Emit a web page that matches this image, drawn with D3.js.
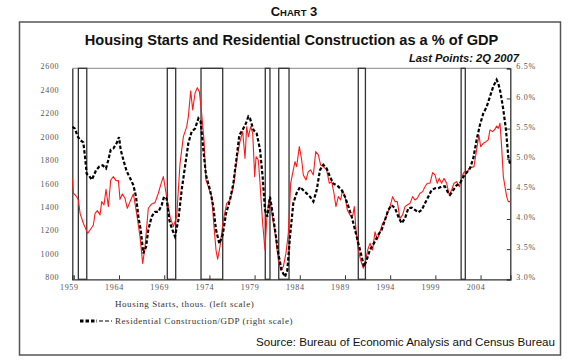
<!DOCTYPE html>
<html><head><meta charset="utf-8">
<script src="https://cdn.jsdelivr.net/npm/d3@7"></script>
<style>
html,body{margin:0;padding:0;background:#fff;}
svg{display:block;}
</style></head>
<body>
<svg id="chart" width="576" height="360"></svg>
<script>
// ---- data ----
const startYears = [1958.85,1958.95,1959.32,1959.50,1959.69,1960.05,1960.53,1960.79,1961.16,1961.35,1961.60,1961.90,1962.08,1962.34,1962.56,1962.82,1963.08,1963.37,1963.67,1963.93,1964.11,1964.37,1964.66,1964.92,1965.22,1965.59,1965.95,1966.32,1966.62,1966.88,1967.24,1967.61,1967.98,1968.35,1968.61,1968.90,1969.27,1969.64,1970.01,1970.38,1970.75,1971.12,1971.49,1971.67,1971.93,1972.15,1972.41,1972.66,1972.89,1973.14,1973.40,1973.62,1973.88,1974.25,1974.51,1974.73,1974.91,1975.17,1975.54,1975.91,1976.28,1976.65,1977.02,1977.38,1977.68,1977.94,1978.12,1978.31,1978.57,1978.79,1979.01,1979.16,1979.41,1979.60,1979.89,1980.15,1980.34,1980.59,1980.81,1981.07,1981.33,1981.62,1981.88,1982.18,1982.47,1982.73,1982.99,1983.28,1983.47,1983.65,1983.95,1984.21,1984.39,1984.69,1984.94,1985.20,1985.50,1985.76,1986.05,1986.31,1986.60,1986.97,1987.27,1987.53,1987.78,1988.00,1988.26,1988.52,1988.74,1989.00,1989.26,1989.55,1989.85,1990.03,1990.22,1990.47,1990.73,1991.03,1991.29,1991.51,1991.77,1992.06,1992.32,1992.58,1992.87,1993.17,1993.42,1993.68,1993.98,1994.27,1994.53,1994.79,1995.08,1995.38,1995.64,1995.89,1996.19,1996.48,1996.74,1997.00,1997.30,1997.59,1997.85,1998.11,1998.40,1998.70,1998.96,1999.21,1999.43,1999.69,1999.95,2000.25,2000.54,2000.80,2001.06,2001.35,2001.65,2002.02,2002.20,2002.46,2002.75,2003.01,2003.27,2003.56,2003.82,2004.01,2004.30,2004.60,2004.85,2005.04,2005.33,2005.59,2005.78,2005.96,2006.15,2006.33,2006.52,2006.70,2006.89,2007.07,2007.29];
const startValues = [1653,1534,1505,1477,1363,1278,1192,1221,1263,1363,1386,1349,1463,1434,1568,1420,1647,1676,1642,1642,1482,1528,1491,1406,1463,1528,1363,1164,936,1079,1406,1443,1454,1534,1605,1676,1505,1335,1249,1335,1790,2017,2102,2188,2407,2245,2387,2435,2401,2216,1989,1647,1590,1505,1249,1050,971,1079,1306,1448,1477,1590,1818,1974,2060,1832,2102,2017,2102,2045,1676,1846,1818,1619,1278,1050,1306,1477,1420,1278,1164,965,880,908,1022,1192,1619,1733,1804,1761,1932,1818,1690,1647,1718,1733,1690,1889,1861,1775,1761,1733,1619,1633,1534,1420,1505,1477,1562,1505,1392,1349,1340,1420,1221,1050,965,894,965,1050,1107,1050,1206,1136,1206,1278,1306,1363,1420,1505,1463,1463,1320,1349,1420,1434,1448,1505,1477,1491,1534,1548,1590,1619,1619,1710,1690,1619,1661,1619,1661,1619,1519,1562,1619,1633,1590,1690,1718,1704,1747,1755,1761,1903,2031,1932,1960,1974,1989,2074,2060,2080,2108,2088,2131,1932,1676,1590,1505,1463,1463];
const resYears = [1958.85,1959.13,1959.39,1959.69,1960.05,1960.24,1960.42,1960.72,1960.98,1961.23,1961.46,1961.82,1962.19,1962.56,1962.82,1963.08,1963.37,1963.74,1964.00,1964.18,1964.48,1964.85,1965.22,1965.59,1965.88,1966.14,1966.40,1966.69,1966.99,1967.24,1967.61,1967.98,1968.35,1968.72,1968.98,1969.27,1969.57,1969.83,1970.19,1970.56,1970.93,1971.30,1971.67,1972.04,1972.41,1972.78,1973.03,1973.33,1973.62,1974.07,1974.43,1974.73,1975.10,1975.47,1975.84,1976.28,1976.65,1977.02,1977.31,1977.68,1978.05,1978.31,1978.49,1978.86,1979.23,1979.60,1979.89,1980.15,1980.41,1980.70,1981.00,1981.26,1981.62,1981.99,1982.36,1982.62,1982.92,1983.28,1983.65,1984.02,1984.58,1985.13,1985.50,1985.87,1986.23,1986.60,1986.97,1987.34,1987.71,1988.26,1988.63,1989.00,1989.37,1989.74,1990.11,1990.47,1990.84,1991.10,1991.40,1991.77,1992.21,1992.69,1993.06,1993.42,1993.79,1994.16,1994.53,1994.90,1995.27,1995.64,1996.01,1996.37,1996.74,1997.11,1997.48,1997.85,1998.22,1998.58,1998.96,1999.32,1999.69,2000.06,2000.36,2000.62,2000.98,2001.35,2001.72,2002.09,2002.46,2002.83,2003.20,2003.56,2003.93,2004.30,2004.67,2005.04,2005.41,2005.78,2005.96,2006.22,2006.52,2006.81,2007.07,2007.29];
const resValues = [5.53,5.50,5.38,5.31,5.27,5.03,4.75,4.71,4.65,4.73,4.81,4.87,4.89,4.84,4.98,5.15,5.17,5.26,5.36,5.15,4.98,4.79,4.68,4.56,4.37,4.04,3.82,3.43,3.54,3.82,4.04,4.12,4.12,4.23,4.37,4.34,3.98,3.85,3.71,3.98,4.48,4.87,5.26,5.45,5.50,5.67,5.62,5.15,4.73,4.48,4.21,3.82,3.59,3.74,4.09,4.32,4.59,5.03,5.39,5.48,5.59,5.70,5.67,5.48,5.42,5.15,4.70,4.15,4.04,4.37,4.09,3.82,3.43,3.15,3.04,3.15,3.71,4.26,4.43,4.53,4.45,4.37,4.29,4.48,4.81,4.90,4.84,4.70,4.59,4.54,4.48,4.37,4.21,4.04,3.82,3.60,3.38,3.21,3.32,3.49,3.60,3.74,3.82,3.98,4.15,4.23,4.18,4.04,3.93,4.01,4.18,4.19,4.15,4.11,4.15,4.26,4.37,4.48,4.51,4.51,4.54,4.54,4.45,4.40,4.48,4.56,4.59,4.70,4.77,4.84,5.01,5.31,5.56,5.75,5.86,6.03,6.20,6.31,6.25,6.09,5.81,5.48,5.03,4.90];
const recessionStart = [1959.50,1969.34,1973.07,1980.18,1981.67,1990.47,2001.85];
const recessionEnd   = [1960.43,1970.27,1975.47,1980.70,1982.81,1991.26,2002.31];
const leftTicks = [800,1000,1200,1400,1600,1800,2000,2200,2400,2600];
const rightTicks = [3.0,3.5,4.0,4.5,5.0,5.5,6.0,6.5];
const yearTicks = [1959,1964,1969,1974,1979,1984,1989,1994,1999,2004];
const titleText = "Housing Starts and Residential Construction as a % of GDP";
const subtitleText = "Last Points: 2Q 2007";
const legendLabels = ["Housing Starts, thous. (left scale)", "Residential Construction/GDP (right scale)"];
const sourceText = "Source: Bureau of Economic Analysis and Census Bureau";

// ---- layout ----
const svg = d3.select("#chart");
const L = 72.3, R = 510.3, T = 68.3, B = 279.3;
const x = d3.scaleLinear().domain([1958.83, 2007.29]).range([L, R]);
const yL = d3.scaleLinear().domain([800, 2600]).range([B, T]);
const yR = d3.scaleLinear().domain([3.0, 6.5]).range([B, T]);

// outer frame
svg.append("rect").attr("x", 19.5).attr("y", 22).attr("width", 541).attr("height", 333)
  .attr("fill", "#fff").attr("stroke", "#555").attr("stroke-width", 1.5);

// Chart 3 heading (small caps)
const h = svg.append("text").attr("x", 294).attr("y", 15.5).attr("text-anchor", "middle")
  .attr("font-family", "Liberation Sans, Arial, sans-serif").attr("font-weight", "bold").attr("fill", "#111");
h.append("tspan").attr("font-size", 13).text("C");
h.append("tspan").attr("font-size", 9.5).text("HART");
h.append("tspan").attr("font-size", 13).text(" 3");

svg.append("text").attr("x", 291.5).attr("y", 44.5).attr("text-anchor", "middle")
  .attr("font-family", "Liberation Sans, Arial, sans-serif").attr("font-weight", "bold")
  .attr("font-size", 14.6).attr("fill", "#111").text(titleText);
svg.append("text").attr("x", 519).attr("y", 61.5).attr("text-anchor", "end")
  .attr("font-family", "Liberation Sans, Arial, sans-serif").attr("font-weight", "bold").attr("font-style", "italic")
  .attr("font-size", 11.2).attr("fill", "#111").text(subtitleText);

// plot top border (light)
svg.append("line").attr("x1", L).attr("x2", R).attr("y1", T).attr("y2", T)
  .attr("stroke", "#888").attr("stroke-width", 1);

// recession bars
svg.append("g").selectAll("rect").data(recessionStart).join("rect")
  .attr("x", (d) => x(d))
  .attr("y", T)
  .attr("width", (d, i) => x(recessionEnd[i]) - x(d))
  .attr("height", B - T)
  .attr("fill", "none").attr("stroke", "#333").attr("stroke-width", 1.3);

// axes
const axisFont = "Liberation Serif, Times New Roman, serif";
const gl = svg.append("g").attr("transform", `translate(${L},0)`)
  .call(d3.axisLeft(yL).tickValues(leftTicks).tickSize(0).tickPadding(13).tickFormat(d3.format("d")));
const gr = svg.append("g").attr("transform", `translate(${R},0)`)
  .call(d3.axisRight(yR).tickValues(rightTicks).tickSize(-3.5).tickPadding(6).tickFormat(d => d.toFixed(1) + "%"));
const gb = svg.append("g").attr("transform", `translate(0,${B})`)
  .call(d3.axisBottom(x).tickValues(yearTicks).tickSize(-4).tickPadding(5).tickFormat(d3.format("d")));
[gl, gr, gb].forEach(g => {
  g.select(".domain").attr("stroke", "#333").attr("stroke-width", 1.3);
  g.selectAll(".tick line").attr("stroke", "#333").attr("stroke-width", 1);
  g.selectAll("text").attr("font-family", axisFont).attr("font-size", 8)
    .attr("letter-spacing", 0.7).attr("fill", "#555");
});
gl.selectAll("text").attr("y", -2);
gr.selectAll("text").attr("y", -2);
gb.selectAll("text").attr("x", -5);

// lines
const idxS = d3.range(startYears.length);
const idxR = d3.range(resYears.length);
svg.append("path")
  .attr("d", d3.line().x(i => x(startYears[i])).y(i => yL(startValues[i]))(idxS))
  .attr("fill", "none").attr("stroke", "#ff1a1a").attr("stroke-width", 1.1).attr("stroke-linejoin", "round");
svg.append("path")
  .attr("d", d3.line().x(i => x(resYears[i])).y(i => yR(resValues[i]))(idxR))
  .attr("fill", "none").attr("stroke", "#000").attr("stroke-width", 2.2).attr("stroke-dasharray", "3.5,2");

// legend
const legFont = "Liberation Serif, Times New Roman, serif";
svg.append("text").attr("x", 115).attr("y", 306.5).attr("font-family", legFont).attr("font-size", 9)
  .attr("letter-spacing", 0.55).attr("fill", "#333").text(legendLabels[0]);
svg.append("line").attr("x1", 80).attr("x2", 97).attr("y1", 321).attr("y2", 321)
  .attr("stroke", "#000").attr("stroke-width", 3).attr("stroke-dasharray", "3.5,2");
svg.append("line").attr("x1", 99).attr("x2", 112).attr("y1", 321).attr("y2", 321)
  .attr("stroke", "#000").attr("stroke-width", 1.2).attr("stroke-dasharray", "4,2");
svg.append("text").attr("x", 115).attr("y", 323.5).attr("font-family", legFont).attr("font-size", 9)
  .attr("letter-spacing", 0.55).attr("fill", "#333").text(legendLabels[1]);

svg.append("text").attr("x", 555).attr("y", 346).attr("text-anchor", "end")
  .attr("font-family", "Liberation Sans, Arial, sans-serif").attr("font-size", 11.6).attr("fill", "#111").text(sourceText);
</script>
</body></html>
